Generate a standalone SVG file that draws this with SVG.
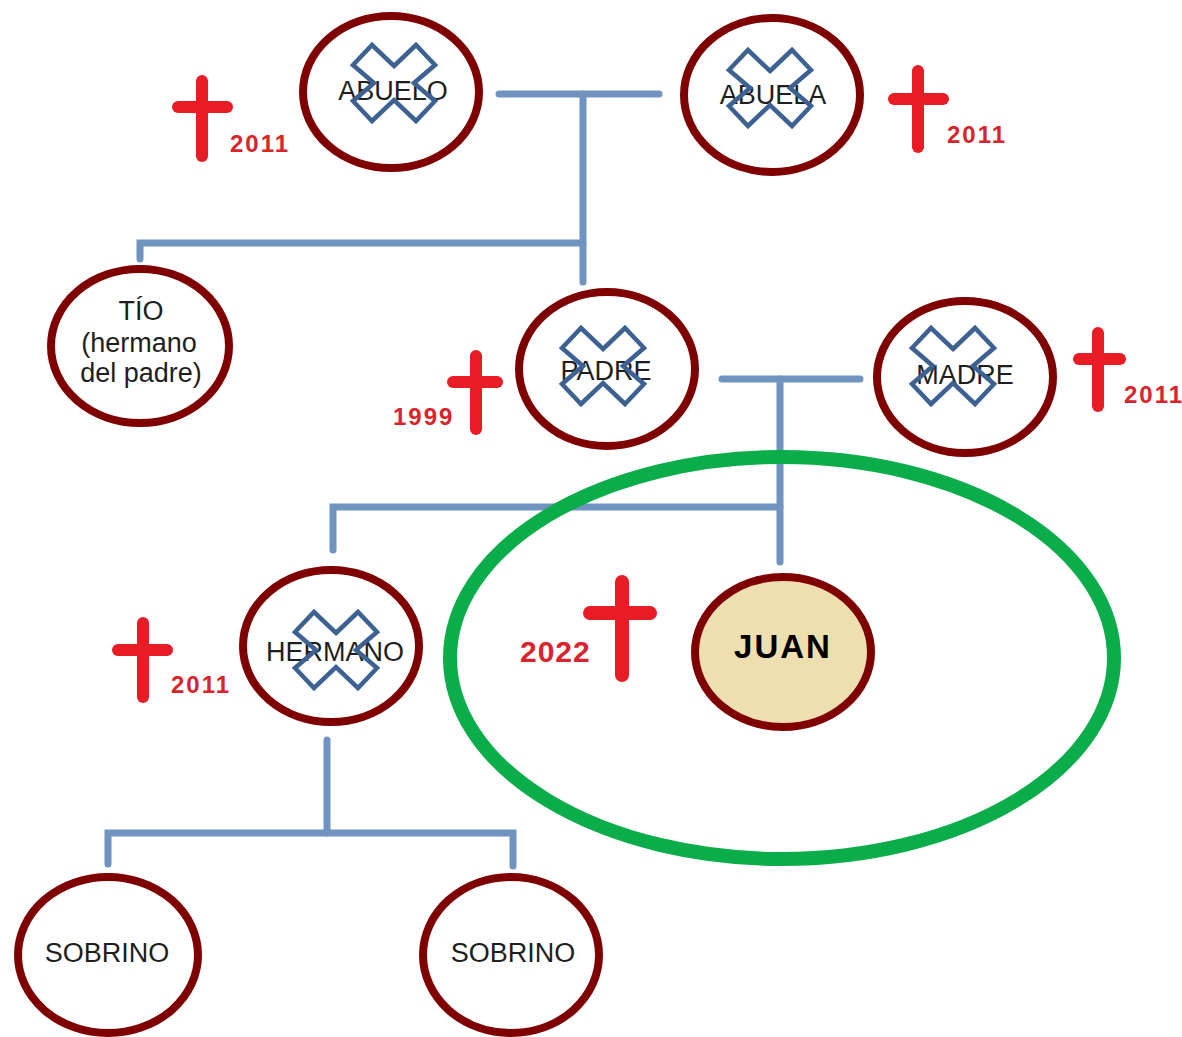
<svg xmlns="http://www.w3.org/2000/svg" width="1182" height="1037" viewBox="0 0 1182 1037">
<style>
.node ellipse{fill:#ffffff;stroke:#7f0000;stroke-width:8}
.node.me ellipse{fill:#eedfb0}
.lbl{font-family:"Liberation Sans",Arial,sans-serif;font-size:27px;fill:#1e1e1e;text-anchor:middle}
.me .lbl{font-weight:bold;font-size:33px;fill:#000;letter-spacing:2px}
.xm{fill:none;stroke:#3d6191;stroke-width:4.5;stroke-linejoin:miter}
.cross line{stroke:#e81c24;stroke-width:12;stroke-linecap:round}
.yr{font-family:"Liberation Sans",Arial,sans-serif;font-weight:bold;font-size:24px;fill:#d8242c;letter-spacing:2px}
.conn path{fill:none;stroke:#7193bf;stroke-width:7;stroke-linecap:round;stroke-linejoin:miter}
.focus{fill:none;stroke:#0aad4a;stroke-width:14}
</style>
<defs>
<path id="xm" class="xm" d="M0,-17 L22,-38 L41,-18 L20,0 L41,18 L22,38 L0,17 L-22,38 L-41,18 L-20,0 L-41,-18 L-22,-38 Z"/>
</defs>
<rect width="1182" height="1037" fill="#ffffff"/>
<g id="connectors" class="conn">
<path d="M499,94 H659"/>
<path d="M583,94 V282"/>
<path d="M140,259 V243 H583"/>
<path d="M722,379 H860"/>
<path d="M780,379 V562"/>
<path d="M333,550 V507 H780"/>
<path d="M327,740 V833"/>
<path d="M108,864 V833 H513 V866"/>
</g>
<g id="abuelo" class="node">
<ellipse cx="391" cy="92" rx="88" ry="76"/>
<text class="lbl" x="393" y="100">ABUELO</text>
<use href="#xm" x="394" y="83"/>
<g class="cross"><line x1="202" y1="81" x2="202" y2="156"/><line x1="178" y1="107" x2="227" y2="107"/></g>
<text class="yr" x="230" y="152">2011</text>
</g>
<g id="abuela" class="node">
<ellipse cx="772" cy="95" rx="88" ry="77"/>
<text class="lbl" x="773" y="104">ABUELA</text>
<use href="#xm" x="770" y="88"/>
<g class="cross"><line x1="918" y1="71" x2="918" y2="147"/><line x1="894" y1="99" x2="943" y2="99"/></g>
<text class="yr" x="947" y="143">2011</text>
</g>
<g id="tio" class="node">
<ellipse cx="140" cy="346" rx="89" ry="77"/>
<text class="lbl" x="141" y="320">TÍO</text>
<text class="lbl" x="139" y="352">(hermano</text>
<text class="lbl" x="141" y="382">del padre)</text>
</g>
<g id="padre" class="node">
<ellipse cx="607" cy="369" rx="88" ry="77"/>
<text class="lbl" x="606" y="380">PADRE</text>
<use href="#xm" x="603" y="366"/>
<g class="cross"><line x1="476" y1="356" x2="476" y2="429"/><line x1="453" y1="382" x2="497" y2="382"/></g>
<text class="yr" x="393" y="425">1999</text>
</g>
<g id="madre" class="node">
<ellipse cx="965" cy="377" rx="88" ry="76"/>
<text class="lbl" x="965" y="384">MADRE</text>
<use href="#xm" x="953" y="366"/>
<g class="cross"><line x1="1098" y1="333" x2="1098" y2="406"/><line x1="1079" y1="359" x2="1120" y2="359"/></g>
<text class="yr" x="1124" y="403">2011</text>
</g>
<g id="hermano" class="node">
<ellipse cx="331" cy="646" rx="88" ry="76"/>
<text class="lbl" x="335" y="661">HERMANO</text>
<use href="#xm" x="336" y="650"/>
<g class="cross"><line x1="143" y1="623" x2="143" y2="697"/><line x1="118" y1="650" x2="167" y2="650"/></g>
<text class="yr" x="171" y="693">2011</text>
</g>
<g id="juan" class="node me">
<ellipse cx="783" cy="652" rx="88" ry="75"/>
<text class="lbl" x="783" y="658">JUAN</text>
<g class="cross"><line x1="622" y1="582" x2="622" y2="675" style="stroke-width:14"/><line x1="590" y1="613" x2="650" y2="613" style="stroke-width:14"/></g>
<text class="yr" x="520" y="662" style="font-size:30px;letter-spacing:1px">2022</text>
</g>
<g id="sobrino1" class="node">
<ellipse cx="108" cy="955" rx="90" ry="78"/>
<text class="lbl" x="107" y="962">SOBRINO</text>
</g>
<g id="sobrino2" class="node">
<ellipse cx="511" cy="955" rx="88" ry="78"/>
<text class="lbl" x="513" y="962">SOBRINO</text>
</g>
<g id="highlight">
<ellipse class="focus" cx="782" cy="658" rx="332" ry="201"/>
</g>
</svg>
